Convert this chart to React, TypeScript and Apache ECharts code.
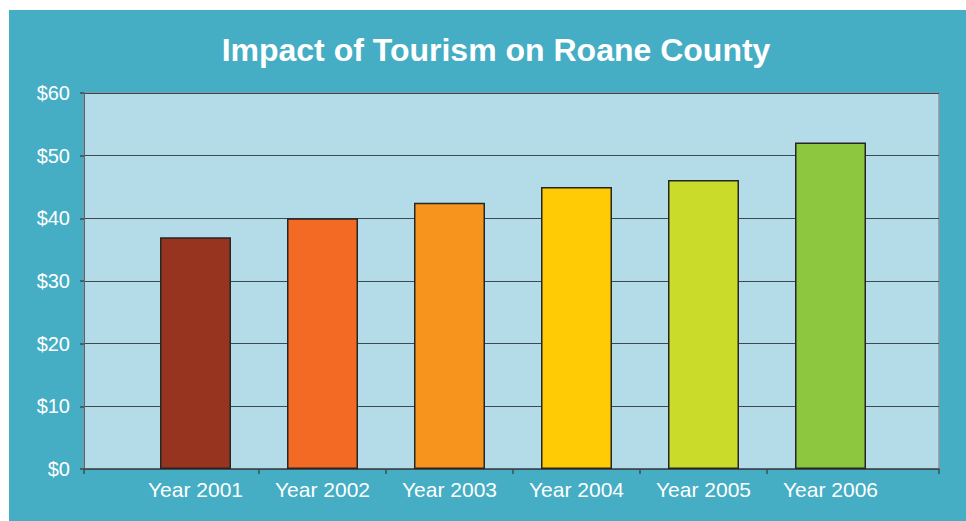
import React, { useEffect, useRef } from "react";
import * as echarts from "echarts";

const title = "Impact of Tourism on Roane County";
const categories = ["Year 2001", "Year 2002", "Year 2003", "Year 2004", "Year 2005", "Year 2006"];
const values = [37, 40, 42.5, 45, 46.1, 52.1];
const barColors = ["#96341F", "#F26A23", "#F7941D", "#FFCB05", "#CBDB2A", "#8DC63F"];
const yTicks = [0, 10, 20, 30, 40, 50, 60];

export default function App() {
  const ref = useRef<HTMLDivElement>(null);

  useEffect(() => {
    if (!ref.current) return;
    const chart = echarts.init(ref.current, null, { renderer: "svg" });

    // plot frame spans 84..939 px; category band spans 132..894 px
    const bandLeft = 132;
    const bandRight = 894;
    const frameLeft = 84;
    const frameRight = 939;
    const unit = (bandRight - bandLeft) / categories.length;
    const xMin = (frameLeft - bandLeft) / unit;
    const xMax = (frameRight - bandLeft) / unit;
    const boundaryTicks = [xMin, 1, 2, 3, 4, 5, xMax];

    const font = "'Liberation Sans', Arial, Helvetica, sans-serif";

    chart.setOption({
      animation: false,
      backgroundColor: "#ffffff",
      title: {
        text: title,
        left: 491,
        top: 29,
        textAlign: "center",
        textStyle: {
          color: "#ffffff",
          fontSize: 32,
          fontWeight: "bold",
          fontFamily: font,
        },
      },
      graphic: [
        {
          type: "rect",
          z: -10,
          silent: true,
          shape: { x: 9, y: 10, width: 957, height: 511 },
          style: { fill: "#45AEC4" },
        },
      ],
      grid: [
        {
          left: frameLeft,
          right: 966 - frameRight,
          top: 93,
          bottom: 52,
          show: true,
          backgroundColor: "#B3DCE8",
          borderColor: "#8C979B",
          borderWidth: 1.5,
        },
        {
          left: bandLeft,
          right: 966 - bandRight,
          top: 93,
          bottom: 52,
        },
      ],
      xAxis: [
        {
          type: "value",
          gridIndex: 0,
          min: xMin,
          max: xMax,
          splitLine: { show: false },
          axisLabel: { show: false },
          axisLine: { show: true, onZero: false, lineStyle: { color: "#3E4C52", width: 1.5 } },
          axisTick: {
            show: true,
            inside: false,
            length: 5,
            customValues: boundaryTicks,
            lineStyle: { color: "#3E4C52", width: 1.5 },
          },
        },
        {
          type: "category",
          gridIndex: 1,
          data: categories,
          axisLine: { show: false },
          axisTick: { show: false },
          axisLabel: {
            color: "#ffffff",
            fontSize: 21,
            fontFamily: font,
            margin: 10,
          },
        },
      ],
      yAxis: [
        {
          type: "value",
          gridIndex: 0,
          min: yTicks[0],
          max: yTicks[yTicks.length - 1],
          interval: yTicks[1] - yTicks[0],
          axisLine: { show: true, onZero: false, lineStyle: { color: "#56656B", width: 1 } },
          axisTick: { show: true, length: 4, lineStyle: { color: "#3E4C52", width: 1.5 } },
          splitLine: { show: true, lineStyle: { color: "#3A4A50", width: 1.2 } },
          axisLabel: {
            color: "#ffffff",
            fontSize: 20,
            fontFamily: font,
            margin: 14,
            formatter: (v: number) => "$" + v,
          },
        },
        {
          type: "value",
          gridIndex: 1,
          min: yTicks[0],
          max: yTicks[yTicks.length - 1],
          show: false,
          splitLine: { show: false },
        },
      ],
      series: [
        {
          type: "bar",
          xAxisIndex: 1,
          yAxisIndex: 1,
          barWidth: 71,
          data: values.map((v, i) => ({
            value: v,
            itemStyle: { color: barColors[i] },
          })),
          itemStyle: { borderColor: "#262626", borderWidth: 1.5 },
          z: 5,
        },
      ],
    });

    return () => chart.dispose();
  }, []);

  return (
    <div
      ref={ref}
      style={{ position: "absolute", left: 0, top: 0, width: 966, height: 521 }}
    />
  );
}
